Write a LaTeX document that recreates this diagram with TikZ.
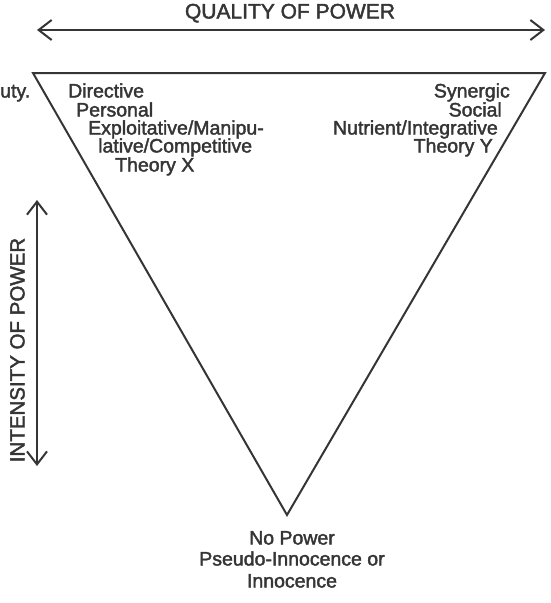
\documentclass[tikz,border=0pt]{standalone}
\usepackage{fontspec}
\setmainfont{Liberation Sans}[FakeBold=2]
\usetikzlibrary{arrows.meta}
\definecolor{ink}{HTML}{353535}

\begin{document}
\begin{tikzpicture}[x=1pt,y=-1pt]
\tikzstyle{edge}=[line width=2pt,draw=ink,line join=miter]
\tikzstyle{axis}=[edge,{Straight Barb[length=13pt,width=20pt,line width=2pt]}-{Straight Barb[length=13pt,width=20pt,line width=2pt]}]
\tikzstyle{lbl}=[text=ink,inner sep=0pt,text height=13pt,text depth=4pt,font=\fontsize{19.5}{19}\selectfont]
\tikzstyle{left lbl}=[lbl,anchor=west]
\tikzstyle{right lbl}=[lbl,anchor=east]

\useasboundingbox (0,0) rectangle (550,603);

%triangle
\coordinate (tl) at (33,73);
\coordinate (tr) at (545,73);
\coordinate (bot) at (287,515);
\draw[edge] (tl) -- (tr) -- (bot) -- cycle;

%axes
\coordinate (qleft) at (37,30);
\coordinate (qright) at (545,30);
\draw[axis] (qleft) -- (qright);
\node[lbl,font=\fontsize{21}{21}\selectfont] (quality) at (290,14) {QUALITY OF POWER};

\coordinate (itop) at (37,200);
\coordinate (ibot) at (37,466);
\draw[axis] (ibot) -- (itop);
\node[lbl,rotate=90,font=\fontsize{20.5}{20}\selectfont] (intensity) at (20,350) {INTENSITY OF POWER};

%left corner
\node[left lbl] (duty) at (0,93) {uty.};
\node[left lbl] (directive) at (68,93) {Directive};
\node[left lbl] (personal) at (76,112) {Personal};
\node[left lbl] (exploit) at (88,130) {Exploitative/Manipu-};
\node[left lbl] (lative) at (98,148) {lative/Competitive};
\node[left lbl] (theoryx) at (115,167) {Theory X};

%right corner
\node[right lbl] (synergic) at (510,93) {Synergic};
\node[right lbl] (social) at (502,112) {Social};
\node[right lbl] (nutrient) at (498,130) {Nutrient/Integrative};
\node[right lbl] (theoryy) at (493,148) {Theory Y};

%bottom
\node[lbl] (nopower) at (292,540) {No Power};
\node[lbl] (pseudo) at (292,561) {Pseudo-Innocence or};
\node[lbl] (innocence) at (292,583) {Innocence};
\end{tikzpicture}
\end{document}
